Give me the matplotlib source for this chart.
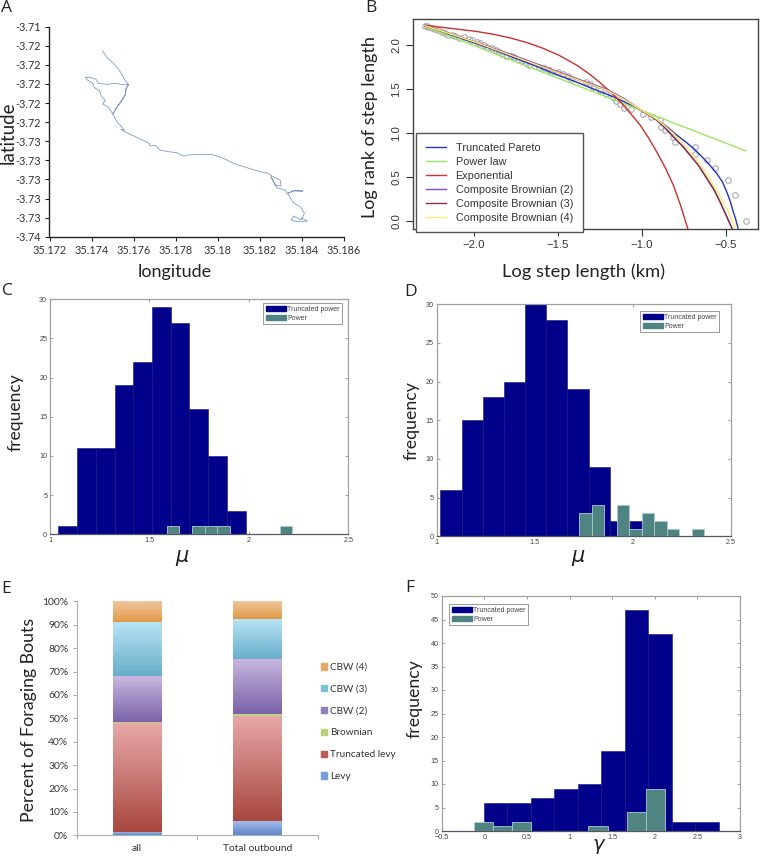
import numpy as np
import matplotlib
matplotlib.use("Agg")
import matplotlib.pyplot as plt
from matplotlib.colors import LinearSegmentedColormap
from matplotlib.patches import Patch

W, H = 760, 857
# ---------- Panel A ----------
track_lon = [35.17452,35.17473,35.17505,35.17529,35.17544,35.17556,35.17576,35.17552,35.17513,35.17473,35.17433,35.17422,35.17394,35.17370,35.17381,35.17406,35.17414,35.17438,35.17446,35.17465,35.17454,35.17481,35.17502,35.17517,35.17540,35.17560,35.17565,35.17576,35.17565,35.17560,35.17540,35.17517,35.17502,35.17521,35.17540,35.17556,35.17540,35.17568,35.17616,35.17675,35.17679,35.17703,35.17727,35.17767,35.17806,35.17838,35.17854,35.17917,35.17973,35.18029,35.18076,35.18140,35.18203,35.18235,35.18259,35.18298,35.18303,35.18275,35.18254,35.18283,35.18322,35.18333,35.18362,35.18406,35.18362,35.18333,35.18346,35.18362,35.18394,35.18414,35.18398,35.18362,35.18351,35.18378,35.18429,35.18402]
track_lat = [-3.71314,-3.71402,-3.71480,-3.71559,-3.71620,-3.71690,-3.71760,-3.71760,-3.71742,-3.71755,-3.71742,-3.71690,-3.71663,-3.71663,-3.71698,-3.71742,-3.71799,-3.71838,-3.71908,-3.71960,-3.72013,-3.72056,-3.72144,-3.72069,-3.71982,-3.71895,-3.71808,-3.71760,-3.71808,-3.71895,-3.71982,-3.72069,-3.72144,-3.72244,-3.72301,-3.72353,-3.72344,-3.72388,-3.72449,-3.72528,-3.72563,-3.72550,-3.72615,-3.72637,-3.72650,-3.72694,-3.72681,-3.72672,-3.72672,-3.72724,-3.72790,-3.72846,-3.72899,-3.72912,-3.72956,-3.73008,-3.73086,-3.73073,-3.72964,-3.73108,-3.73139,-3.73183,-3.73148,-3.73152,-3.73148,-3.73183,-3.73235,-3.73305,-3.73357,-3.73444,-3.73532,-3.73479,-3.73532,-3.73554,-3.73545,-3.73510]
a_xticks = [35.172,35.174,35.176,35.178,35.18,35.182,35.184,35.186]
a_xlabels = ["35.172","35.174","35.176","35.178","35.18","35.182","35.184","35.186"]
a_yticks = [-3.71,-3.7125,-3.715,-3.7175,-3.72,-3.7225,-3.725,-3.7275,-3.73,-3.7325,-3.735,-3.7375]
a_ylabels = ["-3.71","-3.72","-3.72","-3.72","-3.72","-3.72","-3.73","-3.73","-3.73","-3.73","-3.73","-3.74"]

# ---------- Panel B ----------
obs_x = [-2.29,-2.28,-2.27,-2.25,-2.23,-2.21,-2.19,-2.17,-2.15,-2.13,-2.11,-2.09,-2.06,-2.03,-2.01,-1.98,-1.96,-1.94,-1.92,-1.89,-1.87,-1.85,-1.83,-1.81,-1.78,-1.76,-1.73,-1.71,-1.69,-1.67,-1.61,-1.58,-1.55,-1.54,-1.50,-1.47,-1.44,-1.42,-1.33,-1.31,-1.29,-1.25,-1.21,-1.17,-1.15,-1.13,-1.104,-1.064,-0.99,-0.945,-0.891,-0.883,-0.863,-0.812,-0.802,-0.685,-0.681,-0.611,-0.562,-0.484,-0.444,-0.381]
obs_y = [2.22,2.215,2.21,2.195,2.18,2.17,2.15,2.14,2.12,2.11,2.10,2.08,2.09,2.07,2.06,2.04,2.02,2.00,1.98,1.97,1.94,1.92,1.90,1.88,1.88,1.86,1.83,1.82,1.80,1.77,1.75,1.74,1.72,1.70,1.69,1.67,1.65,1.62,1.58,1.56,1.53,1.49,1.45,1.41,1.37,1.33,1.29,1.27,1.22,1.18,1.15,1.075,1.034,0.954,0.90,0.84,0.77,0.70,0.60,0.473,0.30,0.0]
trunc_x = [-2.29,-2.15,-2.0,-1.87,-1.75,-1.62,-1.5,-1.40,-1.308,-1.23,-1.149,-1.07,-0.99,-0.94,-0.891,-0.84,-0.792,-0.74,-0.693,-0.65,-0.613,-0.58,-0.554,-0.52,-0.494,-0.475,-0.455,-0.44,-0.425]
trunc_y = [2.22,2.125,2.03,1.94,1.85,1.755,1.66,1.59,1.518,1.46,1.398,1.325,1.245,1.19,1.13,1.06,0.98,0.905,0.83,0.75,0.677,0.605,0.545,0.45,0.336,0.24,0.109,0.02,-0.088]
power_x = [-2.29,-0.38]
power_y = [2.21,0.80]
expo_x = [-2.29,-2.18,-2.08,-1.982,-1.88,-1.784,-1.68,-1.586,-1.49,-1.387,-1.308,-1.25,-1.189,-1.15,-1.11,-1.06,-1.01,-0.96,-0.911,-0.86,-0.812,-0.77,-0.726]
expo_y = [2.225,2.20,2.178,2.155,2.122,2.083,2.027,1.963,1.883,1.773,1.668,1.578,1.475,1.40,1.32,1.21,1.094,0.95,0.79,0.61,0.413,0.19,-0.08]
cb2_x = [-2.29,-2.0,-1.8,-1.6,-1.4,-1.3,-1.208,-1.16,-1.11,-1.06,-1.01,-0.96,-0.911,-0.86,-0.812,-0.76,-0.713,-0.66,-0.613,-0.57,-0.534,-0.50,-0.461]
cb2_y = [2.22,2.04,1.91,1.77,1.63,1.56,1.50,1.45,1.40,1.335,1.27,1.21,1.15,1.06,0.96,0.86,0.753,0.63,0.489,0.36,0.223,0.08,-0.088]
cb3_x = list(cb2_x)
cb3_y = [2.22,2.04,1.90,1.76,1.62,1.55,1.49,1.44,1.39,1.33,1.265,1.21,1.15,1.06,0.96,0.86,0.753,0.63,0.489,0.36,0.223,0.08,-0.088]
cb4_x = [-2.29,-2.0,-1.8,-1.6,-1.4,-1.3,-1.208,-1.16,-1.11,-1.06,-1.01,-0.96,-0.911,-0.86,-0.812,-0.76,-0.72,-0.653,-0.61,-0.574,-0.534,-0.494,-0.44]
cb4_y = [2.22,2.04,1.90,1.76,1.62,1.55,1.49,1.44,1.39,1.33,1.27,1.215,1.16,1.08,1.0,0.89,0.81,0.64,0.53,0.413,0.28,0.148,-0.088]

# ---------- Panels C, D, F ----------
c_trunc_start, c_trunc_step = 1.042, 0.0942
c_trunc = [1,11,11,19,22,29,27,16,10,3]
c_power_start, c_power_step = 1.588, 0.063
c_power = [1,0,1,1,1,0,0,0,0,1]
d_trunc_start, d_trunc_step = 1.019, 0.108
d_trunc = [6,15,18,20,30,28,19,9,2,2]
d_power_start, d_power_step = 1.728, 0.0638
d_power = [3,4,0,4,1,3,2,1,0,1]
f_trunc_start, f_trunc_step = -0.007, 0.276
f_trunc = [6,6,7,9,10,17,47,42,2,2]
f_power_start, f_power_step = -0.125, 0.2245
f_power = [2,1,2,0,0,0,1,0,4,9]

# ---------- Panel E ----------
e_categories = ["all","Total outbound"]
e_series = ["Levy","Truncated levy","Brownian","CBW (2)","CBW (3)","CBW (4)"]
e_levy = [1.5,6.0]
e_truncated = [46.5,45.0]
e_brownian = [0.5,0.7]
e_cbw2 = [19.5,23.8]
e_cbw3 = [23.0,16.8]
e_cbw4 = [9.0,7.7]
e_top = ["#a8c0e8","#e8a8a8","#c8d890","#c8b8e0","#b8e4f6","#f0c8a0"]
e_bot = ["#6088cc","#a84840","#b8cc80","#7a62a8","#68aeca","#e09a48"]

SANS = "Liberation Sans"
CAL = "Lato"
plt.rcParams["font.family"] = SANS
plt.rcParams["mathtext.fontset"] = "dejavusans"
fig = plt.figure(figsize=(W/100, H/100), dpi=100)

def axpx(l, t, r, b):
    return fig.add_axes([l/W, 1-b/H, (r-l)/W, (b-t)/H])

def tx(x, y, s, size, rot=0, family=CAL, color="#222222", **kw):
    fig.text(x/W, 1-y/H, s, fontsize=size, rotation=rot, family=family, color=color,
             ha="center", va="center", **kw)

# Panel A
ax = axpx(49.5, 26.7, 343.5, 236.7)
ax.plot(track_lon, track_lat, color="#7c9ac8", lw=0.6)
ax.set_xlim(35.172, 35.186)
ax.set_ylim(-3.7375, -3.71)
ax.set_xticks(a_xticks, a_xlabels, fontsize=7.8, family=CAL, color="#333333")
ax.set_yticks(a_yticks, a_ylabels, fontsize=7.8, family=CAL, color="#333333")
ax.tick_params(length=3, width=0.8, direction="out", pad=3, color="#222222")
ax.spines[["top","right"]].set_visible(False)
for s in ["left","bottom"]:
    ax.spines[s].set_linewidth(1.0)
    ax.spines[s].set_color("#222222")

# Panel B
ax = axpx(412.7, 18.7, 758.3, 229.3)
ax.plot(obs_x, obs_y, ls="none", marker="o", ms=4.0, mfc="none", mec="#a8a8b4", mew=0.8, zorder=2)
b_lines = [("Truncated Pareto", trunc_x, trunc_y, "#2430c0"),
           ("Power law", power_x, power_y, "#98e860"),
           ("Exponential", expo_x, expo_y, "#cc3030"),
           ("Composite Brownian (2)", cb2_x, cb2_y, "#8a48c8"),
           ("Composite Brownian (3)", cb3_x, cb3_y, "#8c3048"),
           ("Composite Brownian (4)", cb4_x, cb4_y, "#f8ec70")]
handles = []
for name, xs, ys, col in b_lines:
    handles.append(ax.plot(xs, ys, color=col, lw=1.0, label=name, zorder=3)[0])
ax.set_xlim(-2.363, -0.306)
ax.set_ylim(-0.09, 2.30)
ax.set_xticks([-2.0,-1.5,-1.0,-0.5], ["\u22122.0","\u22121.5","\u22121.0","\u22120.5"], fontsize=8.2)
ax.set_yticks([0,0.5,1.0,1.5,2.0], ["0.0","0.5","1.0","1.5","2.0"], fontsize=8.2, rotation=90, va="center")
ax.tick_params(length=5, width=0.8, color="#333333", labelcolor="#333333", pad=3)
for s in ax.spines.values():
    s.set_color("#444444"); s.set_linewidth(1.0)
leg = ax.legend(handles=handles, loc="upper left", bbox_to_anchor=(416.3/W, 1-133.3/H),
                bbox_transform=fig.transFigure, borderaxespad=0, fontsize=7.8, frameon=True,
                fancybox=False, edgecolor="#555555", framealpha=1, handlelength=1.85,
                handletextpad=0.88, labelspacing=0.36, borderpad=0.9, labelcolor="#333333")
leg.get_frame().set_linewidth(1.0)

# Histograms
NAVY, TEAL = "#00008a", "#4f8482"
def hist_panel(box, xlim, ylim, xt, xl, yt, trunc, ts, tw, power, ps, pw, legpos):
    a = axpx(*box)
    te = ts + tw*np.arange(len(trunc))
    pe = ps + pw*np.arange(len(power))
    a.bar(te, trunc, width=tw, align="edge", color=NAVY, edgecolor="#14147a", lw=0.4, zorder=2)
    a.bar(pe, power, width=pw, align="edge", color=TEAL, edgecolor="#a8cccc", lw=0.6, zorder=3)
    a.set_xlim(*xlim); a.set_ylim(*ylim)
    a.set_xticks(xt, xl, fontsize=5.2)
    a.set_yticks(yt, [str(v) for v in yt], fontsize=5.2)
    a.tick_params(direction="in", length=2.5, width=0.5, top=True, right=True, color="#777777",
                  labelcolor="#444444", pad=2)
    for s in a.spines.values():
        s.set_color("#a0a0a0"); s.set_linewidth(0.9)
    a.spines["bottom"].set_color("#555566")
    hs = [Patch(color=NAVY, label="Truncated power"), Patch(color=TEAL, label="Power")]
    lg = a.legend(handles=hs, loc="upper left", bbox_to_anchor=(legpos[0]/W, 1-legpos[1]/H),
                  bbox_transform=fig.transFigure, borderaxespad=0, fontsize=5.0, frameon=True,
                  fancybox=False, edgecolor="#999999", framealpha=1, handlelength=2.9,
                  handleheight=0.85, handletextpad=0.15, labelspacing=0.28, borderpad=0.35,
                  labelcolor="#444444")
    lg.get_frame().set_linewidth(0.7)
    return a

hist_panel((50, 299.3, 348.3, 534.3), (1,2.5), (0,30), [1,1.5,2,2.5], ["1","1.5","2","2.5"],
           [0,5,10,15,20,25,30], c_trunc, c_trunc_start, c_trunc_step, c_power, c_power_start, c_power_step,
           (263.3, 303.3))
hist_panel((436.7, 304.3, 730.7, 536.3), (1,2.5), (0,30), [1,1.5,2,2.5], ["1","1.5","2","2.5"],
           [0,5,10,15,20,25,30], d_trunc, d_trunc_start, d_trunc_step, d_power, d_power_start, d_power_step,
           (640.3, 311.3))
hist_panel((441.7, 596, 740, 831), (-0.5,3), (0,50), [-0.5,0,0.5,1,1.5,2,2.5,3],
           ["\u22120.5","0","0.5","1","1.5","2","2.5","3"],
           list(range(0,51,5)), f_trunc, f_trunc_start, f_trunc_step, f_power, f_power_start, f_power_step,
           (449.3, 604.3))

# Panel E
ax = axpx(76.7, 601.3, 317.7, 835.3)
pos = np.array([0.5, 1.5])
bottom = np.zeros(2)
vals = [e_levy, e_truncated, e_brownian, e_cbw2, e_cbw3, e_cbw4]
for name, v, ct, cb in zip(e_series, vals, e_top, e_bot):
    bars = ax.bar(pos, v, width=0.405, bottom=bottom, color=cb, edgecolor="none", zorder=2)
    cm = LinearSegmentedColormap.from_list(name, [cb, ct])
    for r in bars:
        ax.imshow(np.linspace(0, 1, 64)[:, None], extent=[r.get_x(), r.get_x()+r.get_width(),
                  r.get_y(), r.get_y()+r.get_height()], origin="lower", aspect="auto", cmap=cm, zorder=3)
    bottom = bottom + np.array(v)
ax.set_xlim(0, 2); ax.set_ylim(0, 100)
ax.set_xticks([0,1,2], ["","",""])
ax.set_xticks(pos, e_categories, minor=True, fontsize=7.4, family=CAL, color="#333333")
ax.tick_params(axis="x", which="minor", length=0, pad=6)
ax.set_yticks(range(0,101,10), [f"{v}%" for v in range(0,101,10)], fontsize=7.5, family=CAL, color="#333333")
ax.tick_params(axis="both", which="major", length=3, width=0.7, color="#aaaaaa", pad=3)
ax.spines[["top","right"]].set_visible(False)
for s in ["left","bottom"]:
    ax.spines[s].set_color("#b0b0b0"); ax.spines[s].set_linewidth(0.8)
mid = ["#e8a868","#7cc0d8","#9080bc","#bcd080","#bc5c58","#7c9cd8"]
e_h = [Patch(color=c, label=n) for c, n in zip(mid, e_series[::-1])]
ax.legend(handles=e_h, loc="upper left", bbox_to_anchor=(318/W, 1-660/H), bbox_transform=fig.transFigure,
          borderaxespad=0, frameon=False, prop={"family":CAL,"size":7.2}, handlelength=0.57, handleheight=0.57,
          handletextpad=0.33, labelspacing=1.28, borderpad=0.3, labelcolor="#333333")

# Text labels
tx(8.5, 133, "latitude", 13.5, 90)
tx(175, 272, "longitude", 13)
tx(370, 127, "Log rank of step length", 13, 90)
tx(584, 272, "Log step length (km)", 13.2)
tx(16, 412, "frequency", 12.6, 90)
tx(412, 421, "frequency", 12.8, 90)
tx(415, 699, "frequency", 12.8, 90)
tx(29, 720, "Percent of Foraging Bouts", 12.8, 90)
tx(182, 558, r"$\mu$", 15, family="DejaVu Sans")
tx(578, 558, r"$\mu$", 15, family="DejaVu Sans")
tx(599, 847, r"$\gamma$", 14, family="DejaVu Sans")
for s, x, y in [("A",7,8),("B",371,8),("C",7,291),("D",411,292),("E",6,589),("F",410,588)]:
    tx(x, y, s, 12.5, family="Open Sans")

fig.savefig("out.png", dpi=100)
